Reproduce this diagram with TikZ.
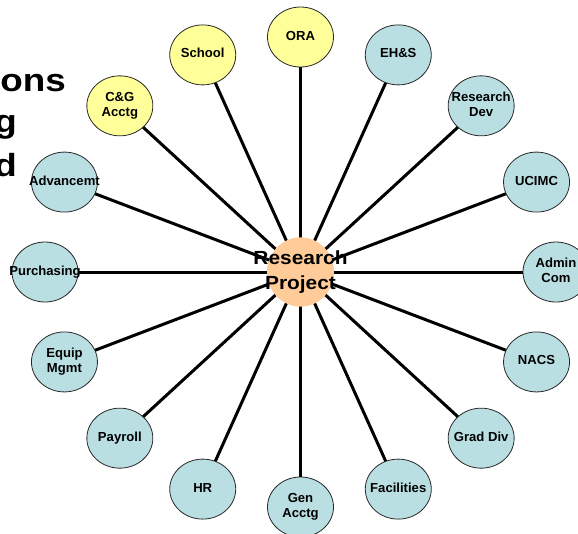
\documentclass[tikz,border=0pt]{standalone}
\usepackage{fontspec}
\setmainfont{Liberation Sans}
\usepackage{graphicx}
\usetikzlibrary{shapes.geometric,backgrounds,calc}
\definecolor{nodeblue}{RGB}{186,223,227}
\definecolor{nodeyellow}{RGB}{255,255,153}
\definecolor{nodepeach}{RGB}{255,204,153}
\definecolor{rimgray}{RGB}{40,40,40}
\newcommand{\lbl}[1]{\makebox[0pt]{\begin{tabular}{@{}c@{}}#1\end{tabular}}}
\newcommand{\widen}[1]{\scalebox{1.15}[1]{#1}}
\tikzset{
  unit/.style={ellipse, draw=rimgray, line width=0.8pt, minimum width=66pt, minimum height=60pt, inner sep=0pt,
    font=\fontsize{13.1}{15}\selectfont\bfseries},
  blueunit/.style={unit, fill=nodeblue},
  yellowunit/.style={unit, fill=nodeyellow},
  hub/.style={ellipse, fill=nodepeach, minimum width=67pt, minimum height=60pt, inner sep=0pt,
    font=\fontsize{19}{24.5}\selectfont\bfseries},
  spoke/.style={line width=3pt, black},
  titlefrag/.style={anchor=base east, inner sep=0pt, font=\fontsize{32}{37}\selectfont\bfseries}
}
\begin{document}
\begin{tikzpicture}[x=1pt,y=1pt]
\useasboundingbox (0,0) rectangle (578,-533);
\node[titlefrag] (t1) at (66,-91) {\widen{ons}};
\node[titlefrag] (t2) at (17,-132) {\widen{g}};
\node[titlefrag] (t3) at (17,-176) {\widen{d}};
\node[hub] (c) at (300.5,-272) {\lbl{\scalebox{1.1}[1]{Research}\\\scalebox{1.1}[1]{Project}}};
\node[blueunit]   (admin) at ($(c)+(0:255.5 and 235)$) {\lbl{Admin\\Com}};
\node[blueunit]   (ucimc) at ($(c)+(22.5:255.5 and 235)$) {\lbl{UCIMC}};
\node[blueunit]   (rdev)  at ($(c)+(45:255.5 and 235)$) {\lbl{Research\\Dev}};
\node[blueunit]   (ehs)   at ($(c)+(67.5:255.5 and 235)$) {\lbl{EH\&S}};
\node[yellowunit] (ora)   at ($(c)+(90:255.5 and 235)$) {\lbl{ORA}};
\node[yellowunit] (school) at ($(c)+(112.5:255.5 and 235)$) {\lbl{School}};
\node[yellowunit] (cg)    at ($(c)+(135:255.5 and 235)$) {\lbl{C\&G\\Acctg}};
\node[blueunit]   (adv)   at ($(c)+(157.5:255.5 and 235)$) {\lbl{Advancemt}};
\node[blueunit]   (purch) at ($(c)+(180:255.5 and 235)$) {\lbl{Purchasing}};
\node[blueunit]   (equip) at ($(c)+(202.5:255.5 and 235)$) {\lbl{Equip\\Mgmt}};
\node[blueunit]   (pay)   at ($(c)+(225:255.5 and 235)$) {\lbl{Payroll}};
\node[blueunit]   (hr)    at ($(c)+(247.5:255.5 and 235)$) {\lbl{HR}};
\node[blueunit]   (gen)   at ($(c)+(270:255.5 and 235)$) {\lbl{Gen\\Acctg}};
\node[blueunit]   (fac)   at ($(c)+(292.5:255.5 and 235)$) {\lbl{Facilities}};
\node[blueunit]   (grad)  at ($(c)+(315:255.5 and 235)$) {\lbl{Grad Div}};
\node[blueunit]   (nacs)  at ($(c)+(337.5:255.5 and 235)$) {\lbl{NACS}};
\begin{pgfonlayer}{background}
\foreach \n in {admin,ucimc,rdev,ehs,ora,school,cg,adv,purch,equip,pay,hr,gen,fac,grad,nacs}
  \draw[spoke] (c.center) -- (\n.center);
\end{pgfonlayer}
\end{tikzpicture}
\end{document}
